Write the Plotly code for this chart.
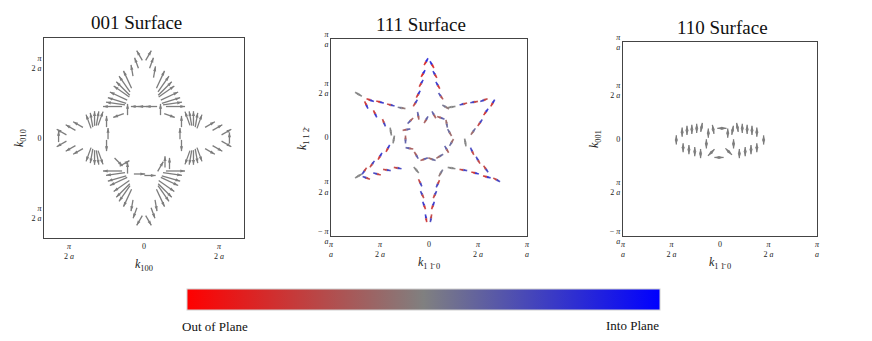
import numpy as np
import plotly.graph_objects as go
from plotly.colors import sample_colorscale

# Spin texture arrows, positions in units of pi/a, angle in degrees
# 001 surface
p1_kx = [-0.03, 0.03, -0.05, 0.05, -0.08, 0.07,
         -0.11, -0.13, -0.14, -0.15, -0.17, -0.18, -0.19, -0.21,
         0.11, 0.13, 0.14, 0.15, 0.17, 0.18, 0.19, 0.21,
         -0.11, -0.05, 0.0, 0.05, 0.11, -0.17, 0.17,
         -0.55, -0.49, -0.44, -0.37, -0.35, -0.33, -0.31, -0.29,
         -0.25, -0.24, -0.25,
         -0.55, -0.49, -0.44, -0.37, -0.35, -0.33, -0.31, -0.29,
         -0.57,
         0.55, 0.49, 0.44, 0.37, 0.35, 0.33, 0.31, 0.29,
         0.25, 0.24, 0.25,
         0.55, 0.49, 0.44, 0.37, 0.35, 0.33, 0.31, 0.29,
         0.57,
         -0.21, -0.19, -0.18, -0.17, -0.15, -0.14, -0.13, -0.11,
         0.21, 0.19, 0.18, 0.17, 0.15, 0.14, 0.13, 0.11,
         -0.08, 0.08, -0.06, 0.06, -0.03, 0.03,
         -0.03, 0.04, -0.17, -0.13, 0.14, 0.17, 0.11, -0.11]
p1_ky = [0.55, 0.55, 0.50, 0.50, 0.45, 0.44,
         0.39, 0.36, 0.33, 0.31, 0.28, 0.25, 0.23, 0.21,
         0.39, 0.36, 0.33, 0.31, 0.28, 0.25, 0.23, 0.21,
         0.19, 0.21, 0.21, 0.21, 0.19, 0.15, 0.15,
         0.04, 0.07, 0.09, 0.11, 0.12, 0.13, 0.13, 0.13,
         0.11, 0.03, -0.05,
         -0.04, -0.07, -0.09, -0.11, -0.12, -0.13, -0.13, -0.13,
         0.01,
         0.04, 0.07, 0.09, 0.11, 0.12, 0.13, 0.13, 0.13,
         0.11, 0.03, -0.05,
         -0.04, -0.07, -0.09, -0.11, -0.12, -0.13, -0.13, -0.13,
         0.0,
         -0.22, -0.24, -0.27, -0.29, -0.32, -0.35, -0.37, -0.40,
         -0.22, -0.24, -0.27, -0.29, -0.32, -0.35, -0.37, -0.40,
         -0.45, -0.45, -0.50, -0.50, -0.55, -0.55,
         -0.24, -0.25, -0.16, -0.17, -0.16, -0.17, -0.19, -0.20]
p1_ang = [120, 60, 110, 70, 100, 80,
          115, 125, 135, 145, 155, 163, 172, 180,
          65, 55, 45, 35, 25, 17, 8, 0,
          90, 180, 180, 180, 90, 200, -20,
          150, 150, 150, 110, 100, 90, 80, 70,
          90, 90, 270,
          210, 210, 210, 250, 260, 270, 280, 290,
          90,
          30, 30, 30, 70, 80, 90, 100, 110,
          90, 90, 270,
          -30, -30, -30, -70, -80, -90, -100, -110,
          90,
          180, 188, 196, 205, 215, 225, 235, 245,
          0, -8, -16, -25, -35, -45, -55, -65,
          260, 280, 250, 290, 240, 300,
          0, 0, -45, 30, 90, 90, 60, 90]
p1_len = [1, 1, 1, 1, 1, 1,
          1.7, 1.7, 1.7, 1.7, 1.7, 1.7, 1.7, 1.7,
          1.7, 1.7, 1.7, 1.7, 1.7, 1.7, 1.7, 1.7,
          1, 1, 1, 1, 1, 1, 1,
          1, 1, 1, 1.3, 1.3, 1.3, 1.3, 1.3,
          1, 1, 1,
          1, 1, 1, 1.3, 1.3, 1.3, 1.3, 1.3,
          1,
          1, 1, 1, 1.3, 1.3, 1.3, 1.3, 1.3,
          1, 1, 1,
          1, 1, 1, 1.3, 1.3, 1.3, 1.3, 1.3,
          1,
          1.7, 1.7, 1.7, 1.7, 1.7, 1.7, 1.7, 1.7,
          1.7, 1.7, 1.7, 1.7, 1.7, 1.7, 1.7, 1.7,
          1, 1, 1, 1, 1, 1,
          1, 1, 1, 1, 1, 1, 1, 1]

# 111 surface
p2_kx = [-0.03, -0.06, -0.08, -0.11, -0.14, 0.03, 0.06, 0.09, 0.12, 0.17,
         -0.72, -0.60, -0.50, -0.39, -0.28, -0.64, -0.55, -0.46, -0.39,
         0.23, 0.35, 0.46, 0.56, 0.65, 0.58, 0.52, 0.45,
         0.37, 0.44, 0.50, 0.58, 0.69, 0.59, 0.47, 0.35, 0.23,
         0.12, 0.09, 0.06, 0.04, 0.02, -0.09, -0.07, -0.05, -0.03, -0.13,
         -0.32, -0.43, -0.53, -0.64, -0.72, -0.66, -0.58, -0.50, -0.42, -0.36,
         -0.19, -0.11, -0.03, 0.05, 0.12, 0.18, 0.21, 0.23, 0.18, 0.11, 0.03, -0.05,
         -0.13, -0.20, -0.24, -0.23]
p2_ky = [0.77, 0.65, 0.55, 0.44, 0.35, 0.74, 0.64, 0.53, 0.42, 0.31,
         0.44, 0.38, 0.36, 0.33, 0.30, 0.33, 0.24, 0.15, 0.06,
         0.31, 0.34, 0.36, 0.38, 0.35, 0.26, 0.15, 0.06,
         -0.05, -0.14, -0.23, -0.32, -0.43, -0.40, -0.36, -0.33, -0.31,
         -0.36, -0.47, -0.58, -0.69, -0.82, -0.46, -0.58, -0.69, -0.82, -0.33,
         -0.31, -0.33, -0.37, -0.41, -0.39, -0.34, -0.27, -0.19, -0.11, -0.02,
         0.17, 0.22, 0.18, 0.23, 0.20, 0.14, 0.05, -0.05, -0.12, -0.19, -0.22, -0.22,
         -0.18, -0.11, -0.02, 0.08]
p2_ang = [60, 60, 60, 60, 58, 120, 120, 120, 125, 150,
          150, 160, 165, 165, 170, 115, 115, 112, 100,
          10, 15, 10, 20, 60, 55, 55, 55,
          100, 115, 120, 125, 150, 165, 165, 170, 170,
          60, 65, 65, 70, 80, 115, 115, 110, 100, 130,
          170, 170, 165, 160, 30, 55, 55, 60, 62, 80,
          45, 100, 60, 120, 160, 100, 120, 60, 120, 30, 160, 20,
          120, 170, 90, 10]
p2_sz = [0.7, 0.7, 0.6, 0.6, 0.5, 0.7, 0.6, 0.6, 0.4, 0.1,
         0.0, -0.6, -0.6, -0.5, 0.1, -0.6, -0.6, -0.5, 0.0,
         0.0, -0.5, -0.5, -0.5, 0.6, 0.6, 0.5, 0.2,
         0.0, 0.5, 0.5, -0.5, -0.5, -0.6, -0.6, -0.5, 0.0,
         0.1, -0.5, 0.5, 0.6, -0.5, -0.5, 0.5, 0.6, 0.6, 0.0,
         -0.5, -0.5, 0.5, 0.5, 0.0, -0.5, 0.5, 0.6, 0.6, 0.0,
         -0.3, 0.3, 0.3, 0.3, -0.3, -0.2, 0.2, -0.2, 0.3, 0.2, -0.2, 0.3,
         -0.3, 0.3, -0.3, 0.3]

# 110 surface
p3_kx = [-0.45, -0.39, -0.34, -0.29, -0.24, -0.19, -0.38, -0.32, -0.26, -0.20,
         0.18, 0.23, 0.28, 0.33, 0.38, 0.20, 0.26, 0.32, 0.38, 0.45,
         -0.12, -0.07, 0.02, 0.08, 0.13, -0.14, 0.14, -0.09, -0.01, 0.09]
p3_ky = [-0.01, 0.07, 0.09, 0.10, 0.11, 0.12, -0.09, -0.11, -0.13, -0.15,
         0.12, 0.11, 0.10, 0.09, 0.07, -0.15, -0.13, -0.11, -0.09, -0.01,
         0.06, 0.10, 0.11, 0.06, 0.09, -0.05, -0.05, -0.14, -0.19, -0.13]
p3_ang = [90, 90, 90, 90, 90, 80, 90, 90, 90, 90,
          100, 90, 90, 90, 90, 90, 90, 90, 90, 90,
          90, 100, 0, 90, 80, 90, 90, 45, 0, 135]

cscale = [[0, 'rgb(255,0,0)'], [0.5, 'rgb(128,128,128)'], [1, 'rgb(0,0,255)']]
GRAY = 'rgb(125,125,125)'
SERIF = 'Liberation Serif, Times New Roman, serif'


def arrow_geom(kx, ky, ang, lens, base):
    out = []
    for x, y, a, l in zip(kx, ky, ang, lens):
        d = base * l / 2
        c, s = np.cos(np.radians(a)), np.sin(np.radians(a))
        out.append((x - d * c, y - d * s, x, y, x + d * c, y + d * s, 90 - a))
    return out


def add_gray(fig, geom, xa, ya, width=1.3, double=False):
    xs, ys, hx, hy, hang = [], [], [], [], []
    for x0, y0, xc, yc, x1, y1, mang in geom:
        xs += [x0, x1, None]
        ys += [y0, y1, None]
        hx.append(x1)
        hy.append(y1)
        hang.append(mang)
        if double:
            hx.append(x0)
            hy.append(y0)
            hang.append(mang + 180)
    fig.add_trace(go.Scatter(x=xs, y=ys, mode='lines', xaxis=xa, yaxis=ya,
                             line=dict(color=GRAY, width=width), hoverinfo='skip'))
    fig.add_trace(go.Scatter(x=hx, y=hy, mode='markers', xaxis=xa, yaxis=ya,
                             marker=dict(symbol='arrow', size=5, angle=hang, color=GRAY),
                             hoverinfo='skip'))


fig = go.Figure()

add_gray(fig, arrow_geom(p1_kx, p1_ky, p1_ang, p1_len, 0.075), 'x', 'y')
add_gray(fig, arrow_geom(p3_kx, p3_ky, p3_ang, [1] * len(p3_kx), 0.095), 'x3', 'y3', double=True)

# 111 surface: two-tone double-headed arrows coloured by the out-of-plane component
g2 = arrow_geom(p2_kx, p2_ky, p2_ang, [1] * len(p2_kx), 0.08)
hx, hy, hang, hcol = [], [], [], []
for (x0, y0, xc, yc, x1, y1, mang), sz in zip(g2, p2_sz):
    ctail = sample_colorscale(cscale, [(1 - sz) / 2])[0]
    chead = sample_colorscale(cscale, [(1 + sz) / 2])[0]
    fig.add_trace(go.Scatter(x=[x0, xc], y=[y0, yc], mode='lines', xaxis='x2', yaxis='y2',
                             line=dict(color=ctail, width=1.7), opacity=0.8, hoverinfo='skip'))
    fig.add_trace(go.Scatter(x=[xc, x1], y=[yc, y1], mode='lines', xaxis='x2', yaxis='y2',
                             line=dict(color=chead, width=1.7), opacity=0.8, hoverinfo='skip'))
    hx += [x1, x0]
    hy += [y1, y0]
    hang += [mang, mang + 180]
    hcol += [chead, ctail]
fig.add_trace(go.Scatter(x=hx, y=hy, mode='markers', xaxis='x2', yaxis='y2',
                         marker=dict(symbol='arrow', size=4, angle=hang, color=hcol, opacity=0.85),
                         hoverinfo='skip'))

# colour bar
fig.add_trace(go.Scatter(x=[None], y=[None], mode='markers', xaxis='x3', yaxis='y3',
                         marker=dict(color=[0], cmin=-1, cmax=1, colorscale=cscale, showscale=True,
                                     colorbar=dict(orientation='h', x=0.4857, xanchor='center',
                                                   y=0.1188, yanchor='middle', len=0.5424,
                                                   lenmode='fraction', thickness=21,
                                                   showticklabels=False, ticks='',
                                                   outlinewidth=1, outlinecolor='#d0d0d0',
                                                   xpad=0, ypad=0))))


def frac(den):
    return "<i>π</i><br>" + den


F2 = frac("2 <i>a</i>")
F1 = frac("<i>a</i>")

axis_common = dict(showgrid=False, zeroline=False, showline=True, mirror=True,
                   linecolor='#444', linewidth=1, ticks='', fixedrange=True,
                   tickfont=dict(family=SERIF, size=8, color='#222'))

fig.update_layout(
    width=872, height=341, margin=dict(l=0, r=0, t=0, b=0, autoexpand=False),
    plot_bgcolor='white', paper_bgcolor='white', showlegend=False,
    xaxis=dict(domain=[0.0505, 0.2798], range=[-0.667, 0.667], anchor='y',
               tickvals=[-0.5, 0, 0.5], ticktext=[F2, '0', F2], **axis_common),
    yaxis=dict(domain=[0.302, 0.8886], range=[-0.667, 0.667], anchor='x',
               tickvals=[-0.5, 0, 0.5], ticktext=[F2, '0', F2], **axis_common),
    xaxis2=dict(domain=[0.3796, 0.6044], range=[-1, 1], anchor='y2',
                tickvals=[-1, -0.5, 0, 0.5, 1], ticktext=[F1, F2, '0', F2, F1], **axis_common),
    yaxis2=dict(domain=[0.3079, 0.8856], range=[-1, 1], anchor='x2',
                tickvals=[-1, -0.5, 0, 0.5, 1], ticktext=['− ' + F1, F2, '0', F2, F1], **axis_common),
    xaxis3=dict(domain=[0.7144, 0.9369], range=[-1, 1], anchor='y3',
                tickvals=[-1, -0.5, 0, 0.5, 1], ticktext=[F1, F2, '0', F2, F1], **axis_common),
    yaxis3=dict(domain=[0.3079, 0.8768], range=[-1, 1], anchor='x3',
                tickvals=[-1, -0.5, 0, 0.5, 1], ticktext=['− ' + F1, F2, '0', F2, F1], **axis_common),
)

titles = [("001 Surface", 136, 23), ("111 Surface", 421, 24), ("110 Surface", 722, 27)]
for t, x, y in titles:
    fig.add_annotation(text=t, x=x / 872, y=1 - y / 341, xref='paper', yref='paper',
                       xanchor='center', yanchor='middle', showarrow=False,
                       font=dict(family=SERIF, size=19, color='#111'))

axis_labels = [("<i>k</i><sub>100</sub>", 144, 265, 0),
               ("<i>k</i><sub>010</sub>", 20, 138, -90),
               ("<i>k</i><sub>1 1\u0304 0</sub>", 429, 263, 0),
               ("<i>k</i><sub>1 1 2\u0304</sub>", 303, 138, -90),
               ("<i>k</i><sub>1 1\u0304 0</sub>", 720, 263, 0),
               ("<i>k</i><sub>001</sub>", 595, 139, -90)]
for t, x, y, rot in axis_labels:
    fig.add_annotation(text=t, x=x / 872, y=1 - y / 341, xref='paper', yref='paper',
                       xanchor='center', yanchor='middle', showarrow=False, textangle=rot,
                       font=dict(family=SERIF, size=12, color='#222'))

fig.add_annotation(text="Out of Plane", x=215 / 872, y=1 - 326 / 341, xref='paper', yref='paper',
                   xanchor='center', yanchor='middle', showarrow=False,
                   font=dict(family=SERIF, size=13, color='#111'))
fig.add_annotation(text="Into Plane", x=632 / 872, y=1 - 325 / 341, xref='paper', yref='paper',
                   xanchor='center', yanchor='middle', showarrow=False,
                   font=dict(family=SERIF, size=13, color='#111'))

fig.write_html("out.html", config={'displayModeBar': False},
               post_script="document.body.style.margin='0';document.body.style.overflow='hidden';")
